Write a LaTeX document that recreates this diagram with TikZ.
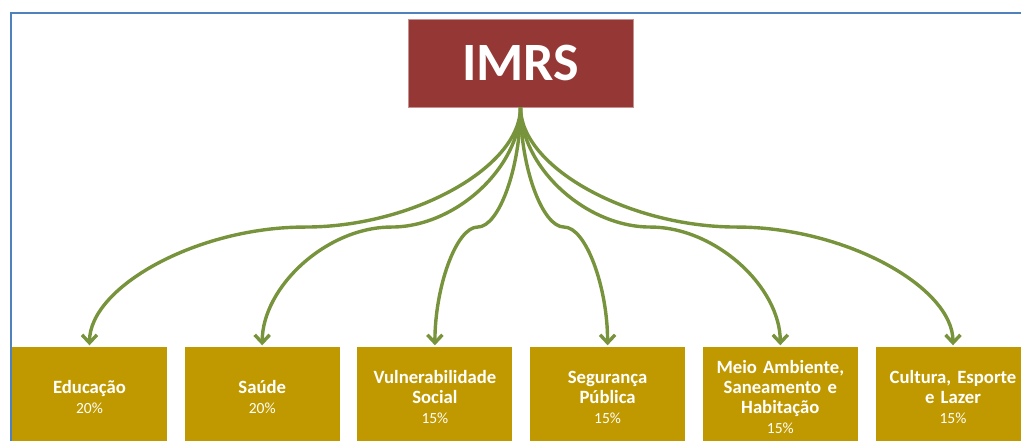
\documentclass[tikz,border=0pt]{standalone}
\usepackage{fontspec}
\setmainfont{Carlito}
\usepackage{tikz}
\usetikzlibrary{arrows.meta,calc}
\usetikzlibrary{positioning}
\tikzset{>={Straight Barb[length=8pt,width=15pt]}}
\definecolor{imrsred}{RGB}{149,55,53}
\definecolor{areagold}{RGB}{192,153,0}
\definecolor{linkgreen}{RGB}{119,147,60}
\definecolor{frameblue}{RGB}{79,129,189}
\newcommand{\pct}[1]{\\{\mdseries\fontsize{15.5}{20}\selectfont #1\%}}

\begin{document}
\begin{tikzpicture}[x=1pt,y=1pt,
	root/.style={fill=imrsred, draw=imrsred!55!white, line width=0.6pt, text=white, font=\fontsize{54}{60}\selectfont\bfseries, minimum width=225pt, minimum height=88pt, inner sep=0pt},
	area/.style={fill=areagold, text=white, font=\fontsize{18.7}{20}\selectfont\bfseries, minimum width=155pt, minimum height=100pt, text width=152pt, align=center, inner sep=0pt},
	link/.style={->, draw=linkgreen, line width=3.4pt},
	node distance=172.7pt, on grid]
		\useasboundingbox (0,0) rectangle (1021,-441);
		\draw[frameblue, line width=2.6pt] (11,-470) |- (1050,-13);
		\node[root] (imrs) at (520.5,-63) {IMRS};
		\node[area] (edu) at (89.5,-397) {Educação\pct{20}};
		\node[area] (sau) [right=of edu] {Saúde\pct{20}};
		\node[area] (vul) [right=of sau] {Vulnerabilidade\\Social\pct{15}};
		\node[area] (seg) [right=of vul] {Segurança\\Pública\pct{15}};
		\node[area] (mei) [right=of seg] {Meio Ambiente,\\Saneamento e\\Habitação\pct{15}};
		\node[area] (cul) [right=of mei] {Cultura, Esporte\\e Lazer\pct{15}};
		\foreach \target in {edu,sau,vul,seg,mei,cul} {
			\coordinate (mid) at ($(imrs.south)!.5!(\target.north)$);
			\draw[link] (imrs.south)
				.. controls ($(imrs.south)!.5!(imrs.south|-mid)$) and ($(imrs.south|-mid)!.5!(mid)$) .. (mid)
				.. controls ($(mid)!.5!(\target.north|-mid)$) and ($(\target.north|-mid)!.5!(\target.north)$) .. ([yshift=1.5pt]\target.north);
		}
	\end{tikzpicture}
\end{document}
